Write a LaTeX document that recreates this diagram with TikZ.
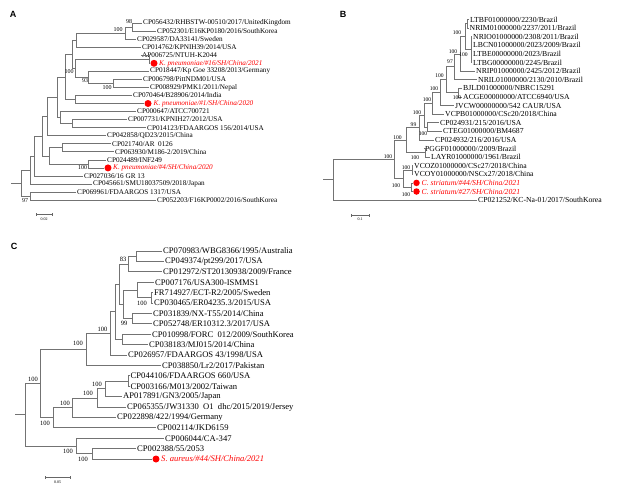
\documentclass[tikz,border=0pt]{standalone}
\usepackage{fontspec}
\setmainfont{Liberation Serif}
\newfontfamily\panelfont{Liberation Sans}
\usepackage{tikz}
\usetikzlibrary{positioning}

\begin{document}
\begin{tikzpicture}[
    x=1pt, y=-1pt,
    br/.style={draw=black!55, line width=0.7pt},
    leafA/.style={anchor=west, inner sep=1pt, font=\fontsize{7.2}{8}\selectfont},
    leafB/.style={anchor=west, inner sep=1pt, font=\fontsize{7.7}{8.5}\selectfont},
    leafC/.style={anchor=west, inner sep=1pt, font=\fontsize{8.6}{9.5}\selectfont},
    hitA/.style={leafA, text=red, font=\fontsize{7.2}{8}\selectfont\itshape},
    hitB/.style={leafB, text=red, font=\fontsize{7.7}{8.5}\selectfont\itshape},
    hitC/.style={leafC, text=red, font=\fontsize{8.6}{9.5}\selectfont\itshape},
    dot/.style={circle, fill=red, inner sep=0pt, minimum size=7pt},
    bs/.style={inner sep=0pt, font=\fontsize{6}{6}\selectfont},
    bsB/.style={inner sep=0pt, font=\fontsize{5.6}{6}\selectfont},
    bsC/.style={inner sep=0pt, font=\fontsize{6.5}{7}\selectfont},
    tag/.style={inner sep=0pt, font=\panelfont\bfseries\fontsize{9}{9}\selectfont},
    bar/.style={draw=black!60, line width=0.5pt},
    barlab/.style={inner sep=0pt, font=\fontsize{4}{4}\selectfont},
]
\useasboundingbox (0,0) rectangle (620,490);

% ---------------- Panel A ----------------
\node[tag] (tagA) at (13,14) {A};

% A leaves
\node[leafA] (A1) at (142,23) {CP056432/RHBSTW-00510/2017/UnitedKingdom};
\node[leafA] (A2) at (156,31) {CP052301/E16KP0180/2016/SouthKorea};
\node[leafA] (A3) at (136,39.1) {CP029587/DA33141/Sweden};
\node[leafA] (A4) at (141,47.2) {CP014762/KPNIH39/2014/USA};
\node[leafA] (A5) at (141,55.2) {AP006725/NTUH-K2044};
\node[dot] (A6d) at (154,63.3) {};
\node[hitA] (A6) at (158,63.3) {K. pneumoniae/\#16/SH/China/2021};
\node[leafA] (A7) at (149,71.3) {CP018447/Kp Goe 33208/2013/Germany};
\node[leafA] (A8) at (142,79.4) {CP006798/PittNDM01/USA};
\node[leafA] (A9) at (149,87.4) {CP008929/PMK1/2011/Nepal};
\node[leafA] (A10) at (132,95.5) {CP070464/B28906/2014/India};
\node[dot] (A11d) at (148,103.5) {};
\node[hitA] (A11) at (152.5,103.5) {K. pneumoniae/\#1/SH/China/2020};
\node[leafA] (A12) at (136,111.6) {CP000647/ATCC700721};
\node[leafA] (A13) at (127,119.6) {CP007731/KPNIH27/2012/USA};
\node[leafA] (A14) at (146,127.7) {CP014123/FDAARGOS 156/2014/USA};
\node[leafA] (A15) at (106,135.7) {CP042858/QD23/2015/China};
\node[leafA] (A16) at (111,143.8) {CP021740/AR\ \ 0126};
\node[leafA] (A17) at (114,151.8) {CP063930/M186-2/2019/China};
\node[leafA] (A18) at (106,159.9) {CP024489/INF249};
\node[dot] (A19d) at (108,167.9) {};
\node[hitA] (A19) at (112,167.9) {K. pneumoniae/\#4/SH/China/2020};
\node[leafA] (A20) at (83,176) {CP027036/16 GR 13};
\node[leafA] (A21) at (92,184) {CP045661/SMU18037509/2018/Japan};
\node[leafA] (A22) at (76,192.1) {CP069961/FDAARGOS 1317/USA};
\node[leafA] (A23) at (156,200.1) {CP052203/F16KP0002/2016/SouthKorea};

% A inner nodes
\coordinate (a1) at (132,27);
\coordinate (a2) at (125,33);
\coordinate (a3) at (76,40.1);
\coordinate (a4) at (149,59.3);
\coordinate (a5) at (113,83.4);
\coordinate (a6) at (88,77.4);
\coordinate (a7) at (75,68.3);
\coordinate (a8) at (72,54.2);
\coordinate (a9) at (75,99.5);
\coordinate (a10) at (65,76.9);
\coordinate (a11) at (72,123.7);
\coordinate (a12) at (60,117.6);
\coordinate (a13) at (57,97.2);
\coordinate (a14) at (47,116.5);
\coordinate (a15) at (62,147.8);
\coordinate (a16) at (88,163.9);
\coordinate (a17) at (49,155.9);
\coordinate (a18) at (42,136.2);
\coordinate (a19) at (34,156.1);
\coordinate (a20) at (30,170.1);
\coordinate (a21) at (30,196.1);
\coordinate (rA) at (21,183.1);
\coordinate (rA0) at (11,183.1);

% A branches
\draw[br] (a1) |- (A1.west) (a1) |- (A2.west);
\draw[br] (a2) |- (a1) (a2) |- (A3.west);
\draw[br] (a3) |- (a2) (a3) |- (A4.west);
\draw[br] (a4) |- (A5.west) (a4) |- (A6d);
\draw[br] (a5) |- (A8.west) (a5) |- (A9.west);
\draw[br] (a6) |- (A7.west) (a6) |- (a5);
\draw[br] (a7) |- (a4) (a7) |- (a6);
\draw[br] (a8) |- (a3) (a8) |- (a7);
\draw[br] (a9) |- (A10.west) (a9) |- (A11d);
\draw[br] (a10) |- (a8) (a10) |- (a9);
\draw[br] (a11) |- (A13.west) (a11) |- (A14.west);
\draw[br] (a12) |- (A12.west) (a12) |- (a11);
\draw[br] (a13) |- (a10) (a13) |- (a12);
\draw[br] (a14) |- (a13) (a14) |- (A15.west);
\draw[br] (a15) |- (A16.west) (a15) |- (A17.west);
\draw[br] (a16) |- (A18.west) (a16) |- (A19d);
\draw[br] (a17) |- (a15) (a17) |- (a16);
\draw[br] (a18) |- (a14) (a18) |- (a17);
\draw[br] (a19) |- (a18) (a19) |- (A20.west);
\draw[br] (a20) |- (a19) (a20) |- (A21.west);
\draw[br] (a21) |- (A22.west) (a21) |- (A23.west);
\draw[br] (rA) |- (a20) (rA) |- (a21);
\draw[br] (rA0) -- (rA);

% A bootstrap values
\node[bs] (bA1) at (129,22) {98};
\node[bs] (bA2) at (118,29.5) {100};
\node[bs] (bA3) at (69,72) {100};
\node[bs] (bA4) at (85,81) {93};
\node[bs] (bA5) at (107,88) {100};
\node[bs] (bA6) at (82.5,168) {100};
\node[bs] (bA7) at (25,200.5) {97};

% A scale
\coordinate (sA1) at (36,214);
\coordinate (sA2) at (52,214);
\draw[bar] (sA1) -- (sA2);
\draw[bar] ([yshift=-1.5pt]sA1) -- ([yshift=1.5pt]sA1);
\draw[bar] ([yshift=-1.5pt]sA2) -- ([yshift=1.5pt]sA2);
\node[barlab] (sAl) at (44,219) {0.02};

% ---------------- Panel B ----------------
\node[tag] (tagB) at (343,14) {B};

% B leaves
\node[leafB] (B1) at (469,19.5) {LTBF01000000/2230/Brazil};
\node[leafB] (B2) at (468.5,28.1) {NRIM01000000/2237/2011/Brazil};
\node[leafB] (B3) at (472,36.7) {NRIO01000000/2308/2011/Brazil};
\node[leafB] (B4) at (472,45.3) {LBCN01000000/2023/2009/Brazil};
\node[leafB] (B5) at (472,53.9) {LTBE00000000/2023/Brazil};
\node[leafB] (B6) at (472,62.5) {LTBG00000000/2245/Brazil};
\node[leafB] (B7) at (475,71.1) {NRIP01000000/2425/2012/Brazil};
\node[leafB] (B8) at (477,79.7) {NRIL01000000/2130/2010/Brazil};
\node[leafB] (B9) at (462,88.3) {BJLD01000000/NBRC15291};
\node[leafB] (B10) at (462,96.9) {ACGE00000000/ATCC6940/USA};
\node[leafB] (B11) at (454,105.5) {JVCW00000000/542 CAUR/USA};
\node[leafB] (B12) at (444,114.1) {VCPB01000000/CSc20/2018/China};
\node[leafB] (B13) at (439,122.7) {CP024931/215/2016/USA};
\node[leafB] (B14) at (442,131.3) {CTEG01000000/BM4687};
\node[leafB] (B15) at (434,139.9) {CP024932/216/2016/USA};
\node[leafB] (B16) at (424,148.5) {PGGF01000000//2009/Brazil};
\node[leafB] (B17) at (430,157.1) {LAYR01000000/1961/Brazil};
\node[leafB] (B18) at (413,165.7) {VCOZ01000000/CSc27/2018/China};
\node[leafB] (B19) at (413,174.3) {VCOY01000000/NSCx27/2018/China};
\node[dot, minimum size=6.5pt] (B20d) at (416.5,182.9) {};
\node[hitB] (B20) at (420.5,182.9) {C. striatum/\#44/SH/China/2021};
\node[dot, minimum size=6.5pt] (B21d) at (416.5,191.5) {};
\node[hitB] (B21) at (420.5,191.5) {C. striatum/\#27/SH/China/2021};
\node[leafB] (B22) at (477,200.1) {CP021252/KC-Na-01/2017/SouthKorea};

% B inner nodes
\coordinate (b1) at (467,23.8);
\coordinate (b2) at (471,49.6);
\coordinate (b3) at (465,36.7);
\coordinate (b4) at (460,53.9);
\coordinate (b5) at (454,66.8);
\coordinate (b6) at (458,92.6);
\coordinate (b7) at (446,79.7);
\coordinate (b8) at (440,92.6);
\coordinate (b9) at (432,103.4);
\coordinate (b10) at (427,127);
\coordinate (b11) at (424,115.2);
\coordinate (b12) at (419,127.6);
\coordinate (b13) at (425,152.8);
\coordinate (b14) at (406,140.2);
\coordinate (b15) at (412,170);
\coordinate (b16) at (411,187.2);
\coordinate (b17) at (403,178.6);
\coordinate (b18) at (394,159.4);
\coordinate (rB) at (333,179.8);
\coordinate (rB0) at (323,179.8);

% B branches
\draw[br] (b1) |- (B1.west) (b1) |- (B2.west);
\draw[br] (b2) |- (B3.west) (b2) |- (B4.west) (b2) |- (B5.west) (b2) |- (B6.west);
\draw[br] (b3) |- (b1) (b3) |- (b2);
\draw[br] (b4) |- (b3) (b4) |- (B7.west);
\draw[br] (b5) |- (b4) (b5) |- (B8.west);
\draw[br] (b6) |- (B9.west) (b6) |- (B10.west);
\draw[br] (b7) |- (b5) (b7) |- (b6);
\draw[br] (b8) |- (b7) (b8) |- (B11.west);
\draw[br] (b9) |- (b8) (b9) |- (B12.west);
\draw[br] (b10) |- (B13.west) (b10) |- (B14.west);
\draw[br] (b11) |- (b9) (b11) |- (b10);
\draw[br] (b12) |- (b11) (b12) |- (B15.west);
\draw[br] (b13) |- (B16.west) (b13) |- (B17.west);
\draw[br] (b14) |- (b12) (b14) |- (b13);
\draw[br] (b15) |- (B18.west) (b15) |- (B19.west);
\draw[br] (b16) |- (B20d) (b16) |- (B21d);
\draw[br] (b17) |- (b15) (b17) |- (b16);
\draw[br] (b18) |- (b14) (b18) |- (b17);
\draw[br] (rB) |- (b18) (rB) |- (B22.west);
\draw[br] (rB0) -- (rB);

% B bootstrap values
\node[bsB] (bB1) at (457,33) {100};
\node[bsB] (bB2) at (463.5,55) {100};
\node[bsB] (bB3) at (453,52) {100};
\node[bsB] (bB4) at (450,62) {97};
\node[bsB] (bB5) at (439.5,76) {100};
\node[bsB] (bB6) at (457,98) {100};
\node[bsB] (bB7) at (434,89) {100};
\node[bsB] (bB8) at (427,100) {100};
\node[bsB] (bB9) at (417,113) {100};
\node[bsB] (bB10) at (413.5,125) {99};
\node[bsB] (bB11) at (423,133.5) {100};
\node[bsB] (bB12) at (397.5,138) {100};
\node[bsB] (bB13) at (415,158) {100};
\node[bsB] (bB14) at (388,157) {100};
\node[bsB] (bB15) at (406,168) {100};
\node[bsB] (bB16) at (396,186) {100};
\node[bsB] (bB17) at (406,195) {100};

% B scale
\coordinate (sB1) at (351,215);
\coordinate (sB2) at (369,215);
\draw[bar] (sB1) -- (sB2);
\draw[bar] ([yshift=-1.5pt]sB1) -- ([yshift=1.5pt]sB1);
\draw[bar] ([yshift=-1.5pt]sB2) -- ([yshift=1.5pt]sB2);
\node[barlab] (sBl) at (360,219.5) {0.1};

% ---------------- Panel C ----------------
\node[tag] (tagC) at (14,246) {C};

% C leaves
\node[leafC] (C1) at (162,251) {CP070983/WBG8366/1995/Australia};
\node[leafC] (C2) at (164,261.4) {CP049374/pt299/2017/USA};
\node[leafC] (C3) at (162,271.8) {CP012972/ST20130938/2009/France};
\node[leafC] (C4) at (154,282.2) {CP007176/USA300-ISMMS1};
\node[leafC] (C5) at (153,292.6) {FR714927/ECT-R2/2005/Sweden};
\node[leafC] (C6) at (153,303) {CP030465/ER04235.3/2015/USA};
\node[leafC] (C7) at (152,313.4) {CP031839/NX-T55/2014/China};
\node[leafC] (C8) at (152,323.8) {CP052748/ER10312.3/2017/USA};
\node[leafC] (C9) at (151,334.2) {CP010998/FORC\ \ 012/2009/SouthKorea};
\node[leafC] (C10) at (148,344.6) {CP038183/MJ015/2014/China};
\node[leafC] (C11) at (127,355) {CP026957/FDAARGOS 43/1998/USA};
\node[leafC] (C12) at (161,365.4) {CP038850/Lr2/2017/Pakistan};
\node[leafC] (C13) at (129.5,375.8) {CP044106/FDAARGOS 660/USA};
\node[leafC] (C14) at (129.5,386.2) {CP003166/M013/2002/Taiwan};
\node[leafC] (C15) at (122,396.6) {AP017891/GN3/2005/Japan};
\node[leafC] (C16) at (126,407) {CP065355/JW31330\ \ O1\ \ dhc/2015/2019/Jersey};
\node[leafC] (C17) at (116,417.4) {CP022898/422/1994/Germany};
\node[leafC] (C18) at (156,427.8) {CP002114/JKD6159};
\node[leafC] (C19) at (164,438.2) {CP006044/CA-347};
\node[leafC] (C20) at (136,448.6) {CP002388/55/2053};
\node[dot] (C21d) at (156,459) {};
\node[hitC] (C21) at (160,459) {S. aureus/\#44/SH/China/2021};

% C inner nodes
\coordinate (c1) at (136,256.2);
\coordinate (c2) at (128,264);
\coordinate (c3) at (151.5,297.8);
\coordinate (c4) at (137,290);
\coordinate (c5) at (132,318.6);
\coordinate (c6) at (123,304.3);
\coordinate (c7) at (119,284.2);
\coordinate (c8) at (122,339.4);
\coordinate (c9) at (115,311.8);
\coordinate (c10) at (110,333.4);
\coordinate (c11) at (86,349.4);
\coordinate (c12) at (128,381);
\coordinate (c13) at (105,388.8);
\coordinate (c14) at (97,397.9);
\coordinate (c15) at (72,407.7);
\coordinate (c16) at (53,417.7);
\coordinate (c17) at (40,383.6);
\coordinate (c18) at (92,453.8);
\coordinate (c19) at (76,446);
\coordinate (rC) at (25,414.8);
\coordinate (rC0) at (15,414.8);

% C branches
\draw[br] (c1) |- (C1.west) (c1) |- (C2.west);
\draw[br] (c2) |- (c1) (c2) |- (C3.west);
\draw[br] (c3) |- (C5.west) (c3) |- (C6.west);
\draw[br] (c4) |- (C4.west) (c4) |- (c3);
\draw[br] (c5) |- (C7.west) (c5) |- (C8.west);
\draw[br] (c6) |- (c4) (c6) |- (c5);
\draw[br] (c7) |- (c2) (c7) |- (c6);
\draw[br] (c8) |- (C9.west) (c8) |- (C10.west);
\draw[br] (c9) |- (c7) (c9) |- (c8);
\draw[br] (c10) |- (c9) (c10) |- (C11.west);
\draw[br] (c11) |- (c10) (c11) |- (C12.west);
\draw[br] (c12) |- (C13.west) (c12) |- (C14.west);
\draw[br] (c13) |- (c12) (c13) |- (C15.west);
\draw[br] (c14) |- (c13) (c14) |- (C16.west);
\draw[br] (c15) |- (c14) (c15) |- (C17.west);
\draw[br] (c16) |- (c15) (c16) |- (C18.west);
\draw[br] (c17) |- (c11) (c17) |- (c16);
\draw[br] (c18) |- (C20.west) (c18) |- (C21d);
\draw[br] (c19) |- (C19.west) (c19) |- (c18);
\draw[br] (rC) |- (c17) (rC) |- (c19);
\draw[br] (rC0) -- (rC);

% C bootstrap values
\node[bsC] (bC1) at (123,259) {83};
\node[bsC] (bC2) at (142,303) {100};
\node[bsC] (bC3) at (124,323) {99};
\node[bsC] (bC4) at (102.5,329) {100};
\node[bsC] (bC5) at (78,343) {100};
\node[bsC] (bC6) at (33,379) {100};
\node[bsC] (bC7) at (97,384) {100};
\node[bsC] (bC8) at (88,393) {100};
\node[bsC] (bC9) at (65,403) {100};
\node[bsC] (bC10) at (45,423) {100};
\node[bsC] (bC11) at (68,451) {100};
\node[bsC] (bC12) at (83,459) {100};

% C scale
\coordinate (sC1) at (45,477);
\coordinate (sC2) at (70,477);
\draw[bar] (sC1) -- (sC2);
\draw[bar] ([yshift=-1.5pt]sC1) -- ([yshift=1.5pt]sC1);
\draw[bar] ([yshift=-1.5pt]sC2) -- ([yshift=1.5pt]sC2);
\node[barlab] (sCl) at (57.5,482) {0.05};

\end{tikzpicture}
\end{document}
